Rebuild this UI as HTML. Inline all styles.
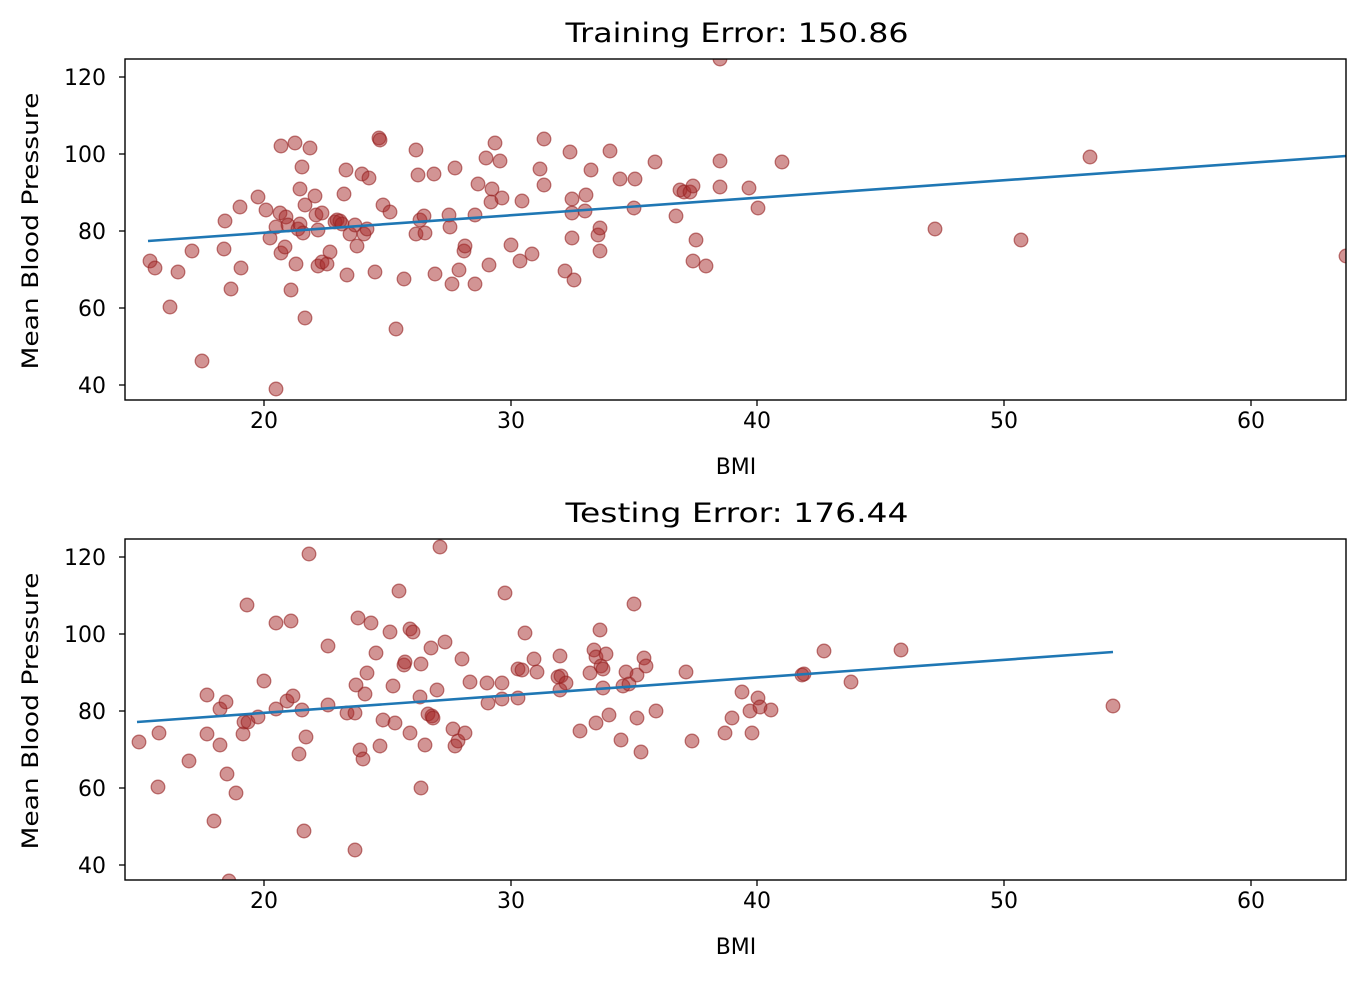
<!DOCTYPE html>
<html><head><meta charset="utf-8"><style>
html,body{margin:0;padding:0;background:#fff}
svg{display:block}
text{font-family:"DejaVu Sans","Liberation Sans",sans-serif;fill:#000}
</style></head><body>
<svg width="1366" height="982" viewBox="0 0 1366 982" xmlns="http://www.w3.org/2000/svg">
<defs><clipPath id="c1"><rect x="125" y="59" width="1221" height="341"/></clipPath>
<clipPath id="c2"><rect x="125" y="539" width="1221" height="341"/></clipPath></defs>
<g id="top"></g><g id="bot"></g>
</svg>
<script>
const NS="http://www.w3.org/2000/svg";
function el(p,t,a,txt){const e=document.createElementNS(NS,t);for(const k in a)e.setAttribute(k,a[k]);if(txt!==undefined)e.textContent=txt;p.appendChild(e);return e;}
function axes(g,top,title,pts,line,clip){
 const bot=top+341;
 const pg=el(g,'g',{'clip-path':'url(#'+clip+')'});
 pts.forEach(p=>el(pg,'circle',{cx:p[0],cy:p[1],r:6.8,fill:'rgba(165,42,42,0.5)',stroke:'rgba(150,35,35,0.6)','stroke-width':1.3}));
 el(pg,'line',{x1:line[0],y1:line[1],x2:line[2],y2:line[3],stroke:'#1f77b4','stroke-width':2.6});
 el(g,'rect',{x:125,y:top,width:1221,height:341,fill:'none',stroke:'#000','stroke-width':1.4});
 [[264,20],[511,30],[757,40],[1004,50],[1251,60]].forEach(t=>{
  el(g,'line',{x1:t[0],y1:bot,x2:t[0],y2:bot+6,stroke:'#000','stroke-width':1.3});
  el(g,'text',{x:t[0],y:bot+28,'text-anchor':'middle','font-size':'22'},t[1]);});
 [[120,18],[100,95],[80,172],[60,249],[40,326]].forEach(t=>{
  const y=top+t[1];
  el(g,'line',{x1:119,y1:y,x2:125,y2:y,stroke:'#000','stroke-width':1.3});
  el(g,'text',{x:106,y:y+8,'text-anchor':'end','font-size':'22'},t[0]);});
 el(g,'text',{x:737,y:top-17,'text-anchor':'middle','font-size':'27',textLength:343,lengthAdjust:'spacingAndGlyphs'},title);
 el(g,'text',{x:736,y:bot+74,'text-anchor':'middle','font-size':'22'},'BMI');
 const cy=top+172;
 el(g,'text',{x:38,y:cy,'text-anchor':'middle','font-size':'22',textLength:277,lengthAdjust:'spacingAndGlyphs',transform:'rotate(-90 38 '+cy+')'},'Mean Blood Pressure');
}
const P1=[[150,261],[155,268],[170,307],[178,272],[192,251],[202,361],[224,249],[225,221],[231,289],[241,268],[240,207],[258,197],[266,210],[270,238],[276,389],[276,227],[280,213],[281,146],[281,253],[285,247],[286,217],[288,225],[291,290],[295,143],[296,264],[298,229],[300,189],[300,224],[302,167],[303,233],[305,205],[305,318],[310,148],[315,196],[316,215],[318,230],[318,266],[322,213],[322,262],[327,264],[330,252],[335,222],[337,220],[340,221],[342,224],[344,194],[346,170],[347,275],[350,234],[355,225],[357,246],[362,174],[364,234],[367,229],[369,178],[375,272],[379,138],[380,140],[383,205],[390,212],[396,329],[404,279],[416,150],[416,234],[418,175],[420,220],[424,216],[425,233],[434,174],[435,274],[449,215],[450,227],[452,284],[455,168],[459,270],[464,251],[465,246],[475,284],[475,215],[478,184],[486,158],[489,265],[491,202],[492,189],[495,143],[500,161],[502,198],[511,245],[520,261],[522,201],[532,254],[540,169],[544,185],[544,139],[565,271],[570,152],[572,213],[572,199],[572,238],[574,280],[585,211],[586,195],[591,170],[598,235],[600,228],[600,251],[610,151],[620,179],[634,208],[635,179],[655,162],[676,216],[680,190],[684,192],[690,192],[693,186],[693,261],[696,240],[706,266],[720,187],[720,161],[720,59],[749,188],[758,208],[782,162],[935,229],[1021,240],[1090,157],[1346,256]];
const P2=[[139,742],[159,733],[158,787],[189,761],[207,695],[207,734],[214,821],[220,745],[220,709],[226,702],[227,774],[229,881],[236,793],[243,734],[244,722],[247,605],[248,722],[258,717],[264,681],[276,623],[276,709],[287,701],[291,621],[293,696],[299,754],[302,710],[304,831],[306,737],[309,554],[328,646],[328,705],[347,713],[355,850],[355,713],[356,685],[358,618],[360,750],[363,759],[365,694],[367,673],[371,623],[376,653],[380,746],[383,720],[390,632],[393,686],[395,723],[399,591],[404,665],[405,662],[410,629],[410,733],[413,632],[420,697],[421,664],[421,788],[425,745],[428,714],[431,648],[432,716],[433,718],[437,690],[440,547],[445,642],[453,729],[455,746],[458,741],[462,659],[465,733],[470,682],[487,683],[488,703],[502,683],[502,699],[505,593],[518,698],[518,669],[522,670],[525,633],[534,659],[537,672],[558,677],[560,656],[560,690],[561,676],[566,683],[580,731],[590,673],[594,650],[596,723],[596,657],[600,630],[601,666],[603,669],[603,688],[606,654],[609,715],[621,740],[623,686],[626,672],[629,684],[634,604],[637,675],[637,718],[641,752],[644,658],[646,666],[656,711],[686,672],[692,741],[725,733],[732,718],[742,692],[750,711],[752,733],[758,698],[760,707],[771,710],[802,675],[804,674],[824,651],[851,682],[901,650],[1113,706]];
axes(document.getElementById('top'),59,'Training Error: 150.86',P1,[148,241,1346,156],'c1');
axes(document.getElementById('bot'),539,'Testing Error: 176.44',P2,[137,722,1113,652],'c2');
</script>
</body></html>
